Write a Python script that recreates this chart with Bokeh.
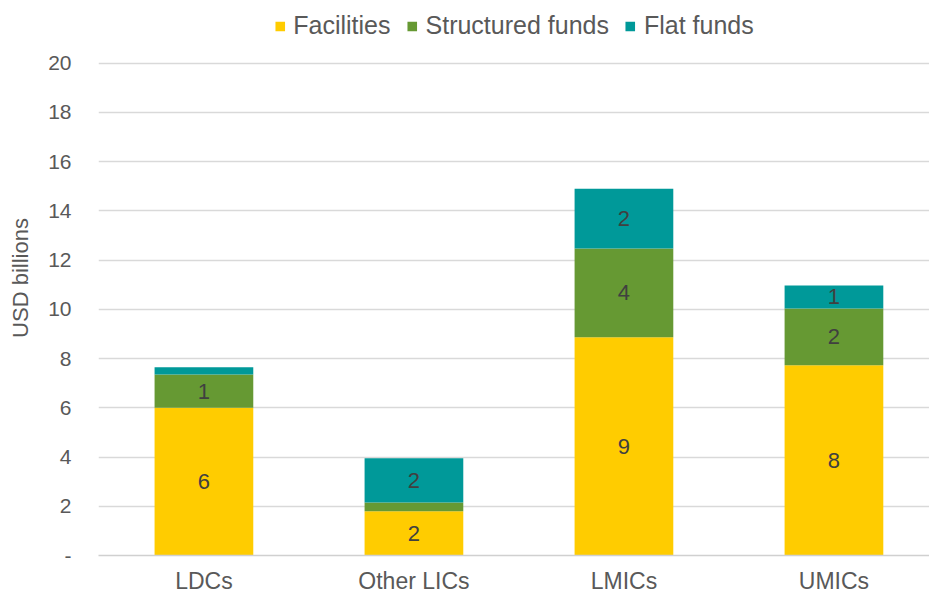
from bokeh.plotting import figure
from bokeh.models import ColumnDataSource, Range1d, FixedTicker, LabelSet
from bokeh.core.properties import value
from bokeh.embed import file_html
from bokeh.resources import INLINE

# ---- data ----
categories = ["LDCs", "Other LICs", "LMICs", "UMICs"]
facilities = [6.0, 1.8, 8.87, 7.73]
structured_funds = [1.35, 0.35, 3.6, 2.31]
flat_funds = [0.3, 1.8, 2.43, 0.93]
series_names = ["Facilities", "Structured funds", "Flat funds"]
series_colors = ["#FFCC00", "#669933", "#009999"]
y_ticks = [0, 2, 4, 6, 8, 10, 12, 14, 16, 18, 20]
y_tick_labels = ["-", "2", "4", "6", "8", "10", "12", "14", "16", "18", "20"]

FONT = "Liberation Sans"
GRAY = "#595959"

xs = list(range(len(categories)))
src = ColumnDataSource(dict(x=xs, **{series_names[0]: facilities,
                                     series_names[1]: structured_funds,
                                     series_names[2]: flat_funds}))

p = figure(width=929, height=596, output_backend="svg", toolbar_location=None,
           x_range=Range1d(-0.502, 3.455), y_range=Range1d(0, 22.55),
           min_border_left=98, min_border_right=0, min_border_top=0,
           min_border_bottom=0)
p.outline_line_color = None
p.background_fill_color = "white"

renderers = p.vbar_stack(series_names, x="x", width=0.47, color=series_colors,
                         line_color=None, source=src, legend_label=series_names)

# labels at segment middles (computed from the series)
lab_x, lab_y, lab_t = [], [], []
for i in xs:
    base = 0.0
    for vals in (facilities, structured_funds, flat_funds):
        v = vals[i]
        r = round(v)
        if r >= 1:
            lab_x.append(i)
            lab_y.append(base + v / 2)
            lab_t.append(str(r))
        base += v
lsrc = ColumnDataSource(dict(x=lab_x, y=lab_y, t=lab_t))
p.add_layout(LabelSet(x="x", y="y", text="t", source=lsrc, text_align="center",
                      text_baseline="middle", text_font=value(FONT),
                      text_font_size="22px", text_color="#404040"))

# y axis
p.yaxis.ticker = FixedTicker(ticks=y_ticks)
p.yaxis.major_label_overrides = {t: l for t, l in zip(y_ticks, y_tick_labels)}
p.yaxis.axis_line_color = None
p.yaxis.major_tick_line_color = None
p.yaxis.minor_tick_line_color = None
p.yaxis.major_label_standoff = 21
p.yaxis.major_label_text_font = FONT
p.yaxis.major_label_text_font_size = "21px"
p.yaxis.major_label_text_color = GRAY
p.yaxis.axis_label = "USD billions"
p.yaxis.axis_label_text_font = FONT
p.yaxis.axis_label_text_font_size = "22px"
p.yaxis.axis_label_text_font_style = "normal"
p.yaxis.axis_label_text_color = GRAY
p.yaxis.axis_label_standoff = 12

# x axis
p.xaxis.ticker = FixedTicker(ticks=xs)
p.xaxis.major_label_overrides = {i: c for i, c in zip(xs, categories)}
p.xaxis.major_tick_line_color = None
p.xaxis.minor_tick_line_color = None
p.xaxis.axis_line_color = "#D0D0D0"
p.xaxis.axis_line_width = 1.5
p.xaxis.major_label_standoff = 6
p.xaxis.major_label_text_font = FONT
p.xaxis.major_label_text_font_size = "23px"
p.xaxis.major_label_text_color = GRAY

# grid
p.xgrid.grid_line_color = None
p.ygrid.grid_line_color = "#D9D9D9"
p.ygrid.grid_line_width = 1.5

# legend
lg = p.legend[0]
lg.location = "top_center"
lg.orientation = "horizontal"
lg.border_line_color = None
lg.background_fill_alpha = 0
lg.margin = 11
lg.padding = 0
lg.spacing = 15
lg.glyph_width = 12
lg.glyph_height = 12
lg.label_standoff = 8
lg.label_text_font = FONT
lg.label_text_font_size = "25px"
lg.label_text_color = GRAY

open("out.html", "w").write(file_html(p, INLINE))
